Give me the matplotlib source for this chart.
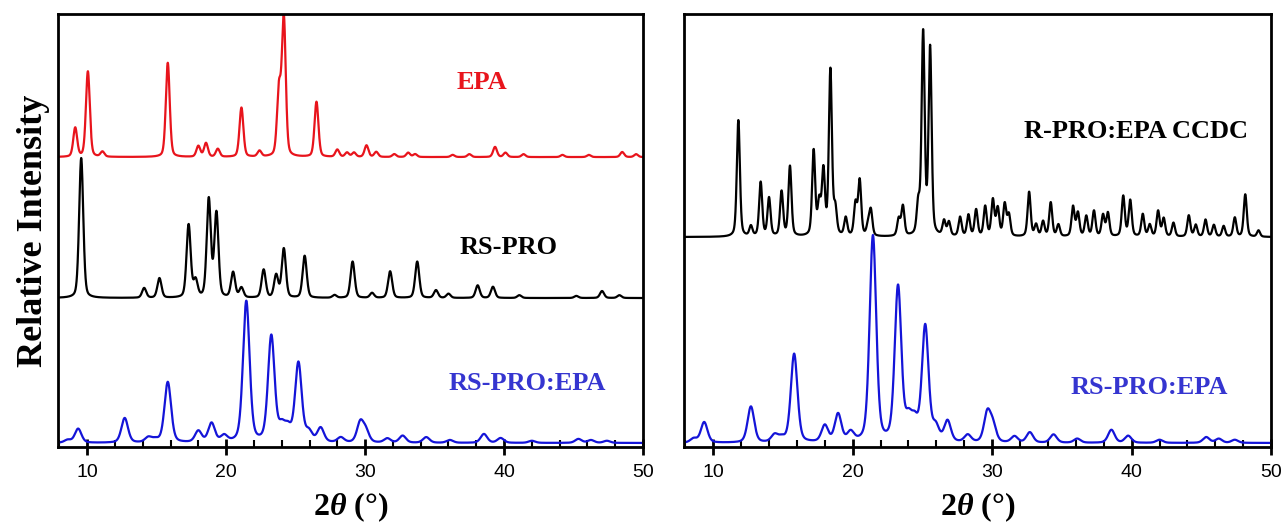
import numpy as np
import matplotlib.pyplot as plt

plt.rcParams['mathtext.fontset'] = 'custom'
plt.rcParams['mathtext.it'] = 'Liberation Serif:bold:italic'
plt.rcParams['mathtext.rm'] = 'Liberation Serif:bold'

# peak positions (2theta, deg) and relative intensities (%)
epa_pos = [9.14, 10.05, 11.1, 15.8, 18.0, 18.55, 19.4, 21.1, 22.4, 23.8, 24.15, 26.5,
           28.0, 28.7, 29.2, 30.1, 30.8, 32.1, 33.1, 33.6, 36.3, 37.5, 39.35, 40.1,
           41.4, 44.2, 46.1, 48.5, 49.5]
epa_int = [20, 59, 3.5, 65, 7.5, 9.5, 5.5, 34, 4, 45, 95, 38,
           5, 3, 3, 8, 3.5, 2, 3, 2, 1.5, 2, 7, 3,
           2, 1.5, 1.5, 3.5, 2]

rspro_pos = [9.57, 14.1, 15.2, 17.3, 17.8, 18.75, 19.3, 20.5, 21.1, 22.7, 23.6, 24.15,
             25.65, 27.8, 29.1, 30.5, 31.8, 33.75, 35.1, 36.0, 38.1, 39.2, 41.1, 45.2,
             47.05, 48.3]
rspro_int = [100, 7, 14, 52, 12, 70, 60, 18, 7, 20, 16, 35,
             30, 2, 26, 3.5, 19, 26, 5.5, 3, 9, 8, 2, 1.5,
             5, 2]

cocr_pos = [8.6, 9.35, 12.7, 14.4, 14.9, 15.8, 18.0, 18.95, 19.85, 21.45, 23.25, 24.0,
            24.45, 25.2, 25.95, 26.8, 28.25, 29.65, 30.05, 31.6, 32.7, 34.4, 36.1, 38.55,
            39.75, 42.0, 45.35, 46.25, 47.4]
cocr_int = [2, 10, 17.5, 3.5, 2, 43, 8, 13.5, 4.5, 100, 75, 10,
            9, 56, 7, 10, 3.5, 14, 8, 3, 5, 4, 2, 6.3,
            3.4, 1.5, 2.8, 2, 1.5]

ccdc_pos = [11.8, 12.7, 13.4, 14.0, 14.9, 15.5, 17.2, 17.6, 17.9, 18.4, 18.75, 19.5,
            20.2, 20.5, 21.1, 21.3, 23.3, 23.6, 24.7, 25.05, 25.55, 26.55, 26.9, 27.7,
            28.3, 28.85, 29.5, 30.05, 30.4, 30.9, 31.2, 32.65, 33.15, 33.65, 34.2, 34.75,
            35.8, 36.15, 36.75, 37.3, 37.95, 38.3, 39.4, 39.9, 40.8, 41.3, 41.9, 42.3,
            43.0, 44.1, 44.6, 45.3, 45.9, 46.6, 47.4, 48.15, 49.1]
ccdc_int = [55, 4.7, 25.5, 18, 21, 33, 40, 15, 30, 78, 12, 8.5,
            15, 26, 5, 12, 8, 14, 14, 95, 88, 7, 6.5, 9,
            10, 12.5, 14, 17, 13, 15, 10, 21, 5.5, 7, 16, 5.5,
            14, 11, 9.5, 12, 10, 11, 19, 17, 10.5, 5.5, 12, 8.5,
            6.5, 10, 5.5, 8, 5.5, 5, 9, 20, 3]

x = np.linspace(7.5, 50.5, 6000)


def pattern(pos, inten, fwhm, eta):
    y = np.zeros_like(x)
    s = fwhm / 2.3548
    g = fwhm / 2
    for p, h in zip(pos, inten):
        gauss = np.exp(-0.5 * ((x - p) / s) ** 2)
        lor = g ** 2 / ((x - p) ** 2 + g ** 2)
        y += h / 100 * (eta * lor + (1 - eta) * gauss)
    return y


red = '#e8141c'
blue = '#1414d8'
label_blue = '#3535d0'

fig = plt.figure(figsize=(12.83, 5.24), dpi=100)
ax1 = fig.add_axes([0.0452, 0.147, 0.4560, 0.826])
ax2 = fig.add_axes([0.5331, 0.147, 0.4576, 0.826])

ax1.plot(x, 290 + 145 * pattern(epa_pos, epa_int, 0.33, 0.3), color=red, lw=1.6)
ax1.plot(x, 149 + 140 * pattern(rspro_pos, rspro_int, 0.35, 0.3), color='black', lw=1.6)
ax1.plot(x, 4 + 141 * pattern(cocr_pos, cocr_int, 0.56, 0.35), color=blue, lw=1.6)

ax2.plot(x, 210 + 212 * pattern(ccdc_pos, ccdc_int, 0.26, 0.4), color='black', lw=1.6)
ax2.plot(x, 4 + 206 * pattern(cocr_pos, cocr_int, 0.56, 0.35), color=blue, lw=1.6)

tfont = dict(family='Liberation Serif', weight='bold', size=19, ha='center', va='center')
ax1.text(38.4, 365, 'EPA', color=red, **tfont)
ax1.text(40.3, 200, 'RS-PRO', color='black', **tfont)
ax1.text(41.65, 63, 'RS-PRO:EPA', color=label_blue, **tfont)
ax2.text(40.3, 316, 'R-PRO:EPA CCDC', color='black', **tfont)
ax2.text(41.25, 59, 'RS-PRO:EPA', color=label_blue, **tfont)

for ax in (ax1, ax2):
    ax.set_xlim(7.9, 50)
    ax.set_ylim(0, 433)
    ax.set_yticks([])
    ax.set_xticks([10, 20, 30, 40, 50])
    ax.set_xticks(np.arange(8, 50, 2), minor=True)
    ax.tick_params(axis='x', which='major', direction='inout', length=12, width=2,
                   labelsize=14, pad=6)
    ax.tick_params(axis='x', which='minor', direction='in', length=5, width=1.5)
    for lab in ax.get_xticklabels():
        lab.set_fontfamily('Liberation Sans')
    for sp in ax.spines.values():
        sp.set_linewidth(2)
    ax.set_xlabel(r'2$\theta$ (°)', family='Liberation Serif', weight='bold', size=23,
                  labelpad=7)

ax1.set_ylabel('Relative Intensity', family='Liberation Serif', weight='bold', size=26,
               labelpad=6)

fig.savefig('out.png', dpi=100)
